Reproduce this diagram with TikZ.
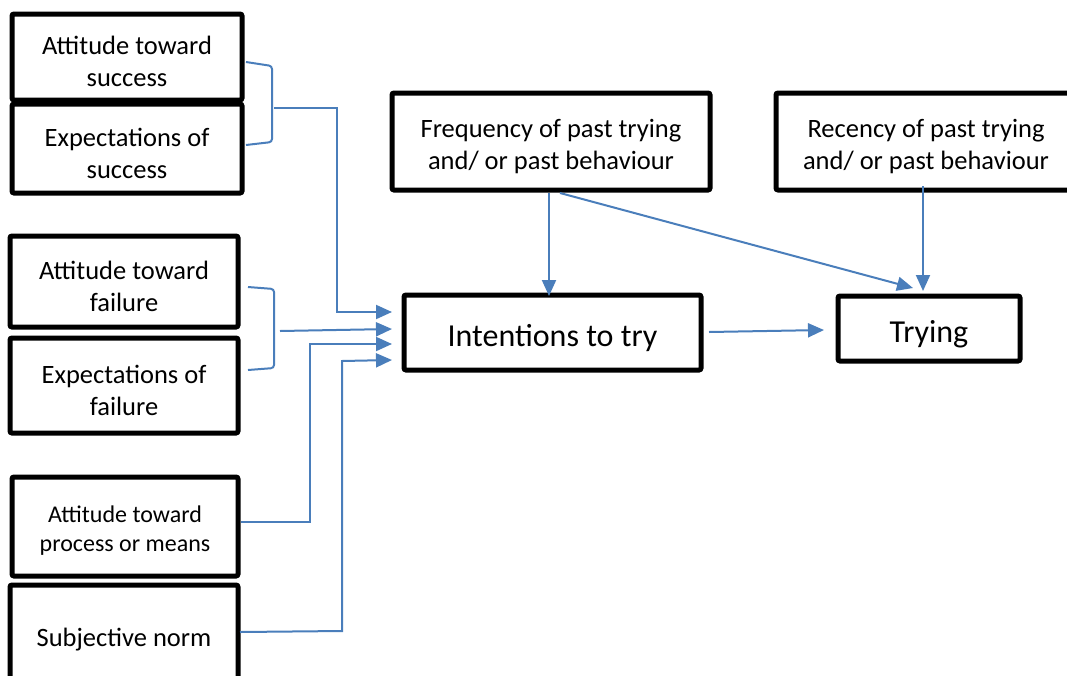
\documentclass[tikz,border=0pt]{standalone}
\usepackage{fontspec}
\setmainfont{Carlito}
\usetikzlibrary{arrows.meta}
\definecolor{conncol}{HTML}{4A7EBB}
\newcommand{\lowr}{\rule{0pt}{1.05em}}
\begin{document}
\begin{tikzpicture}[x=1pt,y=-1pt,
  box/.style={draw,line width=5pt,rounded corners=2pt,align=center,inner sep=0pt,
    font=\fontsize{26.5}{32}\selectfont},
  smalltext/.style={font=\fontsize{24}{29}\selectfont},
  bigtext/.style={font=\fontsize{32}{38}\selectfont},
  conn/.style={draw=conncol,line width=2pt},
  arr/.style={conn,-{Triangle[length=16pt,width=14pt]}}]
\useasboundingbox (0,0) rectangle (1067,675);
\clip (0,0) rectangle (1067,675);
% boxes
\node[box,minimum width=230,minimum height=86] (as) at (127,57) {\lowr Attitude toward\\success};
\node[box,minimum width=230,minimum height=89] (es) at (127,148.5) {\lowr Expectations of\\success};
\node[box,minimum width=228,minimum height=91] (af) at (124,281.5) {\lowr Attitude toward\\failure};
\node[box,minimum width=228,minimum height=95] (ef) at (124,385.5) {\lowr Expectations of\\failure};
\node[box,smalltext,minimum width=226,minimum height=99] (ap) at (125,526.5) {\lowr Attitude toward\\process or means};
\node[box,minimum width=228,minimum height=100] (sn) at (124,635) {\lowr Subjective norm};
\node[box,minimum width=318,minimum height=97] (fr) at (551,141.5) {\lowr Frequency of past trying\\and/ or past behaviour};
\node[box,minimum width=300,minimum height=97] (re) at (926,141.5) {\lowr Recency of past trying\\and/ or past behaviour};
\node[box,bigtext,minimum width=297,minimum height=75] (it) at (552.5,332.5) {\lowr Intentions to try};
\node[box,bigtext,minimum width=182,minimum height=65] (tr) at (929,328.5) {\lowr Trying};
% brace 1
\coordinate (b1a) at (246,62);
\coordinate (b1b) at (272,66);
\coordinate (b1c) at (272,142);
\coordinate (b1d) at (246,145);
\coordinate (b1m) at (274,108);
\coordinate (b1k) at (337,108);
\coordinate (b1e) at (337,312);
\coordinate (b1t) at (392,312);
\draw[conn,rounded corners=3pt] (b1a) -- (b1b) -- (b1c) -- (b1d);
\draw[arr] (b1m) -- (b1k) -- (b1e) -- (b1t);
% brace 2
\coordinate (b2a) at (248,287);
\coordinate (b2b) at (274,289);
\coordinate (b2c) at (274,368);
\coordinate (b2d) at (248,370);
\coordinate (b2m) at (280,331);
\coordinate (b2e) at (392,329);
\draw[conn,rounded corners=3pt] (b2a) -- (b2b) -- (b2c) -- (b2d);
\draw[arr] (b2m) -- (b2e);
% process or means
\coordinate (p1) at (310,522);
\coordinate (p2) at (310,344);
\coordinate (p3) at (392,344);
\draw[arr] (ap.east |- p1) -- (p1) -- (p2) -- (p3);
% subjective norm
\coordinate (s0) at (240,632);
\coordinate (s1) at (342,631);
\coordinate (s2) at (342,361);
\coordinate (s3) at (392,360);
\draw[arr] (s0) -- (s1) -- (s2) -- (s3);
% top arrows
\coordinate (f1) at (549,193);
\coordinate (f2) at (549,296);
\coordinate (f3) at (560,193);
\coordinate (f4) at (913,288);
\coordinate (r1) at (923,186);
\coordinate (r2) at (923,291);
\coordinate (i1) at (709,332);
\coordinate (i2) at (824,330);
\draw[arr] (f1) -- (f2);
\draw[arr] (f3) -- (f4);
\draw[arr] (r1) -- (r2);
\draw[arr] (i1) -- (i2);
\end{tikzpicture}
\end{document}
